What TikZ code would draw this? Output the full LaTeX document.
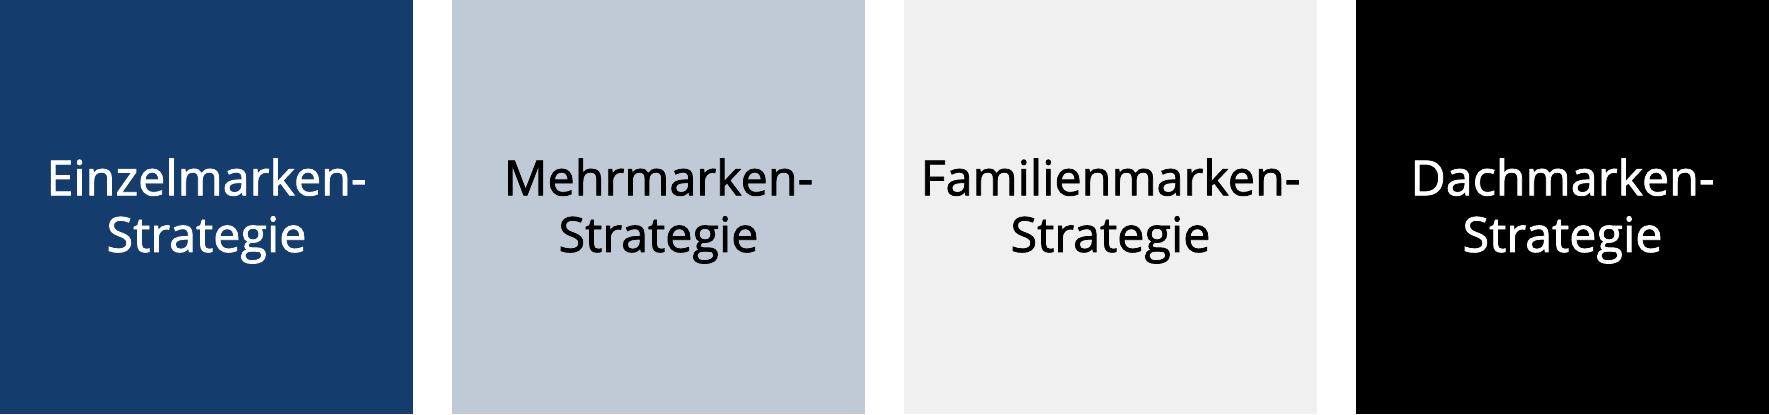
\documentclass[tikz,border=0pt]{standalone}
\usepackage{fontspec}
\setmainfont{Open Sans}
\newfontfamily\markenfont{Open Sans}[FakeBold=1.6]
\usepackage{xcolor}
\usepackage{tikz}

\definecolor{markenblue}{HTML}{143D6E}
\definecolor{markengrey}{HTML}{BFCAD6}
\definecolor{markenlight}{HTML}{F0F0F0}

\begin{document}
\begin{tikzpicture}[x=0.1mm, y=0.1mm, strategy/.style={rectangle, inner sep=0pt, minimum width=41.3mm, minimum height=41.4mm}, label text/.style={align=center, font=\markenfont\fontsize{13.8}{16.1}\selectfont}]
   \useasboundingbox (0,0) rectangle (1769,414);
   \node [strategy, fill=markenblue] (einzel) at (206.5 , 207) {};
   \node [strategy, fill=markengrey] (mehr) at (658.5 , 207) {};
   \node [strategy, fill=markenlight] (familie) at (1110.5 , 207) {};
   \node [strategy, fill=black] (dach) at (1562.5 , 207) {};
   \node [label text, text=white, yshift=-0.4mm] at (einzel) {Einzelmarken-\\Strategie};
   \node [label text, text=black, yshift=-0.4mm] at (mehr) {Mehrmarken-\\Strategie};
   \node [label text, text=black, yshift=-0.4mm] at (familie) {Familienmarken-\\Strategie};
   \node [label text, text=white, yshift=-0.4mm] at (dach) {Dachmarken-\\Strategie};
\end{tikzpicture}
\end{document}
